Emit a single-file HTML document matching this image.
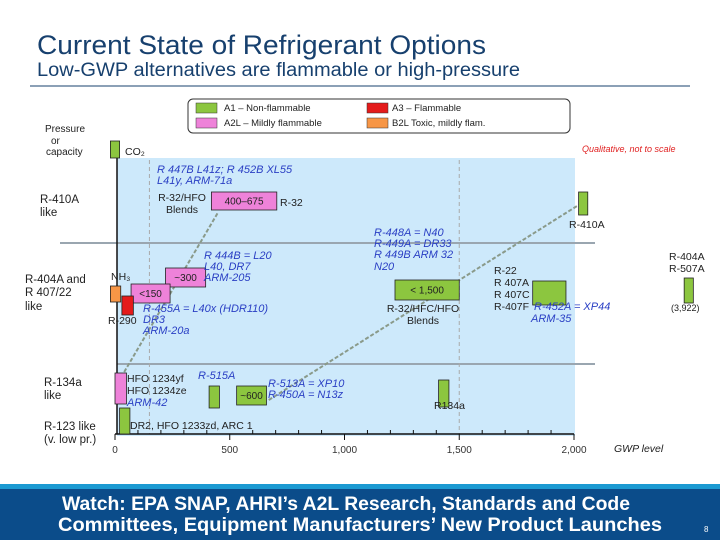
<!DOCTYPE html>
<html><head><meta charset="utf-8"><style>
html,body{margin:0;padding:0;width:720px;height:540px;overflow:hidden;background:#fff;font-family:"Liberation Sans",sans-serif}
svg text{font-family:"Liberation Sans",sans-serif}
</style></head><body>
<svg id="slide" width="720" height="540" viewBox="0 0 720 540" xmlns="http://www.w3.org/2000/svg">
<text x="37" y="54" font-size="27" fill="#17406e" textLength="449" lengthAdjust="spacingAndGlyphs">Current State of Refrigerant Options</text>
<text x="37" y="76" font-size="19" fill="#17406e" textLength="483" lengthAdjust="spacingAndGlyphs">Low-GWP alternatives are flammable or high-pressure</text>
<line x1="30" y1="86" x2="690" y2="86" stroke="#17406e" stroke-width="1"/>
<rect x="117" y="158" width="458" height="278" fill="#cde9fb"/>
<g id="legend">
<rect x="188" y="99" width="382" height="34" rx="5" fill="#fff" stroke="#333" stroke-width="1"/>
<rect x="196" y="103" width="21" height="10" fill="#8cc63f" stroke="#333" stroke-width="0.5"/>
<rect x="196" y="118" width="21" height="10" fill="#ee82d9" stroke="#333" stroke-width="0.5"/>
<rect x="367" y="103" width="21" height="10" fill="#e41b1b" stroke="#333" stroke-width="0.5"/>
<rect x="367" y="118" width="21" height="10" fill="#f79646" stroke="#333" stroke-width="0.5"/>
<text x="224" y="111" font-size="9.5" fill="#222">A1 – Non-flammable</text>
<text x="224" y="126" font-size="9.5" fill="#222">A2L – Mildly flammable</text>
<text x="392" y="111" font-size="9.5" fill="#222">A3 – Flammable</text>
<text x="392" y="126" font-size="9.5" fill="#222">B2L   Toxic, mildly flam.</text>
</g>
<text x="582" y="152" font-size="9" font-style="italic" fill="#e02020">Qualitative, not to scale</text>
<g id="chart"></g>
<g font-size="11.5" fill="#222">
<text x="45" y="132" font-size="10">Pressure</text><text x="51" y="144" font-size="10">or</text><text x="46" y="155" font-size="10">capacity</text>
<text x="40" y="203">R-410A</text><text x="40" y="216">like</text>
<text x="25" y="283">R-404A and</text><text x="25" y="296">R 407/22</text><text x="25" y="310">like</text>
<text x="44" y="386">R-134a</text><text x="44" y="399">like</text>
<text x="44" y="430">R-123 like</text><text x="44" y="443">(v. low pr.)</text>
</g>
<g font-size="11" font-style="italic" fill="#2a3fc4">
<text x="157" y="173">R 447B   L41z; R 452B   XL55</text><text x="157" y="184">L41y, ARM-71a</text>
<text x="204" y="259">R 444B = L20</text><text x="204" y="270">L40, DR7</text><text x="204" y="281">ARM-205</text>
<text x="143" y="312">R-455A = L40x (HDR110)</text><text x="143" y="323">DR3</text><text x="143" y="334">ARM-20a</text>
<text x="374" y="236">R-448A = N40</text><text x="374" y="247">R-449A = DR33</text><text x="374" y="258">R 449B   ARM 32</text><text x="374" y="270">N20</text>
<text x="534" y="310">R-452A = XP44</text><text x="531" y="322">ARM-35</text>
<text x="198" y="379">R-515A</text>
<text x="268" y="387">R-513A = XP10</text><text x="268" y="398">R-450A = N13z</text>
<text x="127" y="406">ARM-42</text>
</g>
<g font-size="10.5" fill="#222">
<text x="125" y="155">CO₂</text>
<text x="182" y="201" text-anchor="middle">R-32/HFO</text><text x="182" y="213" text-anchor="middle">Blends</text>
<text x="280" y="206">R-32</text>
<text x="111" y="280">NH₃</text>
<text x="108" y="324">R-290</text>
<text x="423" y="312" text-anchor="middle">R-32/HFC/HFO</text><text x="423" y="324" text-anchor="middle">Blends</text>
<text x="494" y="274">R-22</text><text x="494" y="286">R 407A</text><text x="494" y="298">R 407C</text><text x="494" y="310">R-407F</text>
<text x="569" y="228">R-410A</text>
<text x="669" y="260">R-404A</text><text x="669" y="272">R-507A</text><text x="671" y="311" font-size="9">(3,922)</text>
<text x="127" y="382">HFO 1234yf</text><text x="127" y="394">HFO 1234ze</text>
<text x="434" y="409">R134a</text>
<text x="130" y="429">DR2, HFO 1233zd, ARC 1</text>
<text x="614" y="452" font-style="italic">GWP level</text>
</g>
<g>
<rect x="0" y="484" width="720" height="6" fill="#1b9ad2"/>
<rect x="0" y="489" width="720" height="51" fill="#0b4c8a"/>
<text x="346" y="510" font-size="19" font-weight="bold" fill="#fff" text-anchor="middle" textLength="568" lengthAdjust="spacingAndGlyphs">Watch: EPA SNAP, AHRI’s A2L Research, Standards and Code</text>
<text x="360" y="531" font-size="19" font-weight="bold" fill="#fff" text-anchor="middle" textLength="604" lengthAdjust="spacingAndGlyphs">Committees, Equipment Manufacturers’ New Product Launches</text>
<text x="704" y="532" font-size="8" fill="#fff">8</text>
</g>
</svg>
<script>
const gwpTicks=[0,500,1000,1500,2000];
const tickLabels=["0","500","1,000","1,500","2,000"];
const boxNames=["r32-blends","low300","low150","lt1500","r22-group","r515a","approx600","r134a","dr2","hfo1234","r290","nh3","co2","r410a","r404a"];
const boxGwpStart=[420,220,70,1220,1820,410,530,1410,20,0,30,-20,-20,2020,2480];
const boxGwpEnd=[705,395,240,1500,1965,455,660,1455,65,50,80,25,20,2060,2520];
const boxTop=[192,268,284,280,281,386,386,380,408,373,296,286,141,192,278];
const boxBottom=[210,287,303,300,305,408,405,407,434,404,315,302,158,215,303];
const boxColors=["#ee82d9","#ee82d9","#ee82d9","#8cc63f","#8cc63f","#8cc63f","#8cc63f","#8cc63f","#8cc63f","#ee82d9","#e41b1b","#f79646","#8cc63f","#8cc63f","#8cc63f"];
const boxLabels=["400–675","~300","<150","< 1,500","","","~600","","","","","","","",""];
const NS="http://www.w3.org/2000/svg";
const x0=115,x1=574;
function xs(v){return x0+(v-gwpTicks[0])/(gwpTicks[gwpTicks.length-1]-gwpTicks[0])*(x1-x0);}
const g=document.getElementById('chart');
function mk(t,a){const e=document.createElementNS(NS,t);for(const k in a)e.setAttribute(k,a[k]);return e;}
let e=mk('line',{x1:60,y1:243,x2:595,y2:243,stroke:'#9aa6b0','stroke-width':2});

g.appendChild(e);
e=mk('line',{x1:117,y1:364,x2:595,y2:364,stroke:'#9aa6b0','stroke-width':2});

g.appendChild(e);
[150,1500].forEach(v=>{const l=mk('line',{x1:xs(v),y1:160,x2:xs(v),y2:434,stroke:'#aaa','stroke-width':1,'stroke-dasharray':'4,3'});

g.appendChild(l);});
[[xs(40),372,xs(450),212],[xs(670),400,xs(2020),205]].forEach(p=>{const l=mk('line',{x1:p[0],y1:p[1],x2:p[2],y2:p[3],stroke:'#8a9a8a','stroke-width':2,'stroke-dasharray':'4,2'});

g.appendChild(l);});
e=mk('line',{x1:117,y1:158,x2:117,y2:434,stroke:'#111','stroke-width':1.5});

g.appendChild(e);
e=mk('line',{x1:x0,y1:434,x2:x1,y2:434,stroke:'#111','stroke-width':1.5});

g.appendChild(e);
for(let v=0;v<=2000;v+=100){const t=mk('line',{x1:xs(v),y1:434,x2:xs(v),y2:v%500?430:440,stroke:'#111','stroke-width':1});

g.appendChild(t);}
gwpTicks.forEach((v,i)=>{const t=mk('text',{x:xs(v),y:453,'font-size':10,fill:'#333','text-anchor':'middle'});t.textContent=tickLabels[i];

g.appendChild(t);});
boxNames.forEach((n,i)=>{const xa=xs(boxGwpStart[i]),xb=xs(boxGwpEnd[i]);
const r=mk('rect',{x:xa,y:boxTop[i],width:xb-xa,height:boxBottom[i]-boxTop[i],fill:boxColors[i],stroke:'#222','stroke-width':0.8});

g.appendChild(r);
if(boxLabels[i]){const t=mk('text',{x:(xa+xb)/2,y:(boxTop[i]+boxBottom[i])/2+3.5,'font-size':10,fill:'#222','text-anchor':'middle'});t.textContent=boxLabels[i];

g.appendChild(t);}});
</script>
</body></html>
